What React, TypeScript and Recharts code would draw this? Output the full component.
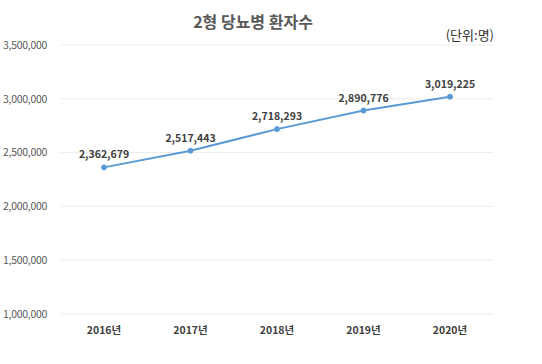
import React from 'react';
import { LineChart, Line, XAxis, YAxis, CartesianGrid, LabelList } from 'recharts';

const years = ['2016년', '2017년', '2018년', '2019년', '2020년'];
const patients = [2362679, 2517443, 2718293, 2890776, 3019225];
const yTicks = [1000000, 1500000, 2000000, 2500000, 3000000, 3500000];

const FONT = '"Noto Sans CJK KR", "Noto Sans", sans-serif';

const chartData = years.map((year, i) => ({ year, value: patients[i] }));

const fmt = (v: number) => Number(v).toLocaleString('en-US');

const App: React.FC = () => {
    return (
        <div style={{ position: 'absolute', left: 0, top: 0, width: 542, height: 364, background: '#fff', fontFamily: FONT }}>
            <div
                style={{
                    position: 'absolute',
                    left: 0,
                    width: 506,
                    top: 9,
                    textAlign: 'center',
                    fontSize: 16,
                    fontWeight: 700,
                    color: '#595959',
                    lineHeight: '24px',
                }}
            >
                2형 당뇨병 환자수
            </div>
            <div
                style={{
                    position: 'absolute',
                    right: 48,
                    top: 26,
                    fontSize: 13,
                    color: '#333',
                    lineHeight: '18px',
                }}
            >
                (단위:명)
            </div>
            <LineChart
                width={542}
                height={364}
                data={chartData}
                margin={{ top: 45, right: 49, bottom: 0, left: 0 }}
            >
                <CartesianGrid vertical={false} stroke="#ececec" />
                <XAxis
                    dataKey="year"
                    axisLine={false}
                    tickLine={false}
                    tickSize={0}
                    tickMargin={13}
                    height={50}
                    padding={{ left: 43, right: 43 }}
                    tick={{ fontSize: 10.5, fill: '#404040', fontWeight: 700, fontFamily: FONT }}
                />
                <YAxis
                    domain={[1000000, 3500000]}
                    ticks={yTicks}
                    axisLine={false}
                    tickLine={false}
                    tickSize={0}
                    tickMargin={14}
                    width={61}
                    tickFormatter={fmt}
                    tick={{ fontSize: 10.5, fill: '#595959', fontFamily: FONT, letterSpacing: -0.3 }}
                />
                <Line
                    type="linear"
                    dataKey="value"
                    stroke="#5B9BD5"
                    strokeWidth={2}
                    dot={{ r: 2.5, fill: '#5B9BD5', stroke: '#5B9BD5', strokeWidth: 1 }}
                    isAnimationActive={false}
                >
                    <LabelList
                        dataKey="value"
                        position="top"
                        offset={9}
                        formatter={(v: any) => fmt(v)}
                        style={{ fontSize: 10.5, fontWeight: 700, fill: '#404040', fontFamily: FONT }}
                    />
                </Line>
            </LineChart>
        </div>
    );
};

export default App;
